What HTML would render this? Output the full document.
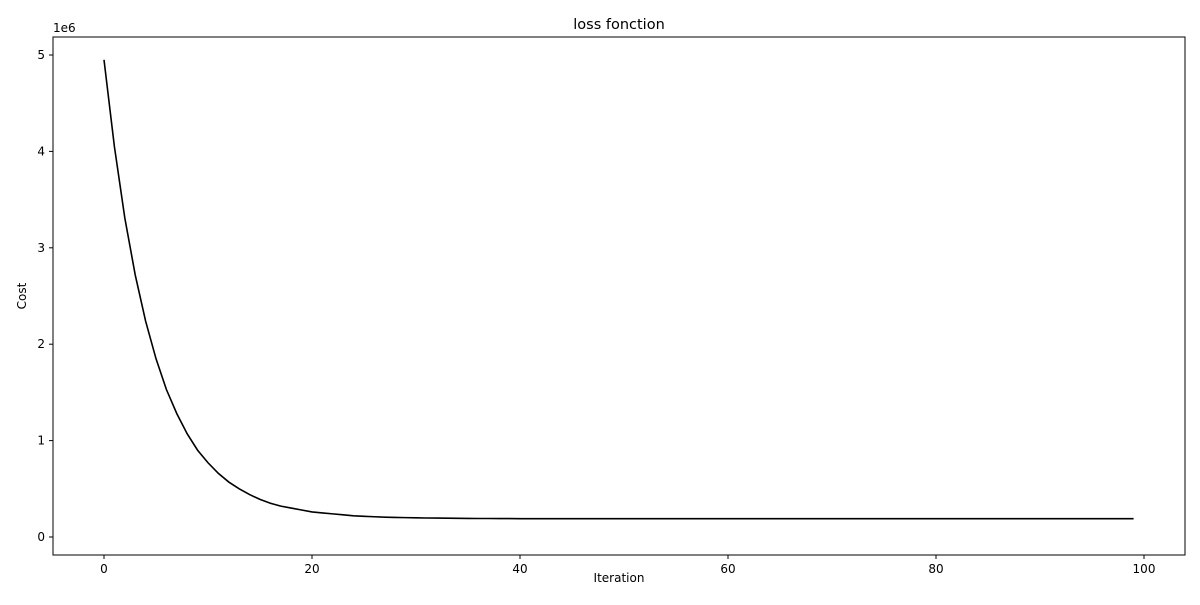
<!DOCTYPE html>
<html><head><meta charset="utf-8"><style>
body{margin:0;background:#fff;font-family:"Liberation Sans","DejaVu Sans",sans-serif}
svg text{font-family:"DejaVu Sans","Liberation Sans",sans-serif;fill:#000}
</style></head><body>
<svg id="c" width="1200" height="600"></svg>
<script>
const iterations = Array.from({length:100},(_, i)=>i);
const costMillions = [4.95,4.05,3.31,2.72,2.24,1.85,1.53,1.28,1.07,0.90,0.77,0.66,0.57,0.50,0.44,0.39,0.35,0.32,0.30,0.28,0.26,0.25,0.24,0.23,0.22,0.215,0.21,0.206,0.203,0.201,0.199,0.197,0.196,0.195,0.194,0.193,0.192,0.192,0.191,0.191,
0.19,0.19,0.19,0.19,0.19,0.19,0.19,0.19,0.19,0.19,0.19,0.19,0.19,0.19,0.19,0.19,0.19,0.19,0.19,0.19,
0.19,0.19,0.19,0.19,0.19,0.19,0.19,0.19,0.19,0.19,0.19,0.19,0.19,0.19,0.19,0.19,0.19,0.19,0.19,0.19,
0.19,0.19,0.19,0.19,0.19,0.19,0.19,0.19,0.19,0.19,0.19,0.19,0.19,0.19,0.19,0.19,0.19,0.19,0.19,0.19];
const xTicks = [0,20,40,60,80,100];
const yTicks = [0,1,2,3,4,5];

const L=53,R=1185,T=37,B=555;
const xs=v=>104+v*10.4;
const ys=v=>537-v*96.4;
const svg=document.getElementById('c');
const NS='http://www.w3.org/2000/svg';
function mk(tag,attrs,parent){const e=document.createElementNS(NS,tag);for(const k in attrs)e.setAttribute(k,attrs[k]);(parent||svg).appendChild(e);return e;}

xTicks.forEach(t=>{
  const x=xs(t);
  const tk=mk('line',{x1:x,x2:x,y1:B,y2:B+4,stroke:'#000','stroke-width':1});
  
  
  const tx=mk('text',{x:x,y:B+18,'text-anchor':'middle','font-size':12});
  tx.textContent=t;
  
  
});
yTicks.forEach(t=>{
  const y=ys(t);
  const tk=mk('line',{x1:L-4,x2:L,y1:y,y2:y,stroke:'#000','stroke-width':1});
  
  
  const tx=mk('text',{x:L-8,y:y+4,'text-anchor':'end','font-size':12});
  tx.textContent=t;
  
  
});

const pts=iterations.map((it,i)=>xs(it).toFixed(2)+','+ys(costMillions[i]).toFixed(2)).join(' ');
const line=mk('polyline',{points:pts,fill:'none',stroke:'#000','stroke-width':1.6});



const frame=mk('rect',{x:L,y:T,width:R-L,height:B-T,fill:'none',stroke:'#000','stroke-width':1});



const title=mk('text',{x:(L+R)/2,y:29,'text-anchor':'middle','font-size':14.5});
title.textContent='loss fonction';



const xl=mk('text',{x:(L+R)/2,y:582,'text-anchor':'middle','font-size':12});
xl.textContent='Iteration';



const yl=mk('text',{x:0,y:0,'text-anchor':'middle','font-size':12,transform:'translate(26,'+((T+B)/2)+') rotate(-90)'});
yl.textContent='Cost';



const off=mk('text',{x:L,y:32,'font-size':12});
off.textContent='1e6';


</script>
</body></html>
